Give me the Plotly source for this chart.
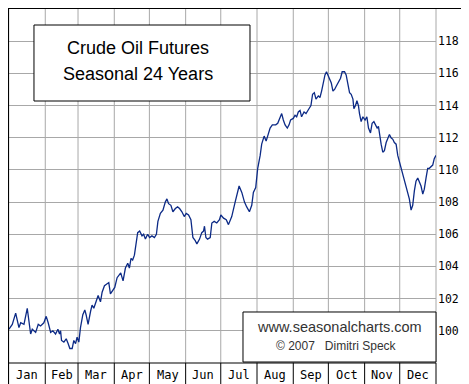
import plotly.graph_objects as go

# ---------------- data ----------------
months = ["Jan", "Feb", "Mar", "Apr", "May", "Jun", "Jul", "Aug", "Sep", "Oct", "Nov", "Dec"]
month_ends = [31, 59, 90, 120, 151, 181, 212, 243, 273, 304, 334, 365]
y_ticks = [100, 102, 104, 106, 108, 110, 112, 114, 116, 118]

day = [
    0, 2.8, 5.7, 7.1, 8.5, 10.0, 12.8, 15.6, 17.7, 18.5,
    19.9, 22.8, 25.0, 27.0, 29.8, 31.8, 33.5, 35.6, 37.5, 39.8,
    41.8, 43.2, 44.1, 44.9, 46.9, 48.9, 50.6, 52.0, 54.0, 55.4,
    56.9, 58.2, 59.7, 61.1, 63.1, 64.8, 65.9, 67.6, 69.7, 71.0,
    72.5, 74.4, 76.2, 78.2, 79.6, 81.6, 83.8, 85.3, 86.7, 88.7,
    90.4, 92.4, 95.5, 97.5, 99.5, 101.5, 102.9, 104.3, 105.7, 107.2,
    108.6, 110.0, 111.7, 113.7, 115.1, 116.6, 118.5, 120.2, 122.2, 124.3,
    126.0, 127.3, 129.4, 131.6, 133.6, 135.0, 136.4, 138.4, 140.1, 142.2,
    144.1, 145.8, 147.8, 149.8, 151.5, 153.5, 155.5, 157.2, 159.2, 160.6,
    162.9, 164.8, 166.3, 167.1, 168.3, 169.7, 172.0, 173.4, 175.4, 177.6,
    179.9, 181.1, 183.4, 185.7, 187.6, 190.4, 193.3, 196.7, 199.0, 201.3,
    203.2, 205.5, 207.5, 208.9, 210.9, 212.6, 214.7, 216.0, 218.1, 219.8,
    221.1, 223.2, 225.1, 228.0, 229.7, 231.7, 233.1, 234.5, 236.0, 237.9,
    239.4, 240.7, 243.0, 244.5, 245.9, 247.3, 248.8, 250.1, 252.2, 253.9,
    255.2, 256.4, 258.1, 259.5, 261.0, 262.4, 264.4, 265.8, 267.2, 268.6,
    270.1, 271.4, 273.5, 275.5, 276.9, 278.3, 279.7, 281.7, 283.4, 284.8,
    286.8, 288.2, 289.7, 291.1, 292.5, 294.0, 294.8, 296.2, 297.4, 298.7,
    299.6, 301.0, 302.5, 304.4, 305.9, 307.3, 309.0, 310.4, 311.9, 313.2,
    314.7, 315.8, 316.6, 318.1, 319.5, 320.9, 322.4, 323.8, 325.2, 326.6,
    328.1, 329.4, 330.9, 332.3, 333.7, 335.1, 337.1, 338.8, 340.9, 342.2,
    343.7, 345.1, 346.5, 347.9, 349.4, 350.8, 352.2, 353.7, 355.0, 356.5,
    357.9, 359.3, 360.7, 362.2, 363.5, 365,
]

seasonal = [
    100.1, 100.4, 101.1, 100.7, 100.2, 100.5, 100.4, 101.4, 100.3, 99.8,
    100.1, 99.9, 100.4, 100.3, 100.5, 100.9, 100.5, 99.9, 100.0, 99.8,
    100.1, 99.8, 100.0, 99.4, 99.3, 99.5, 99.2, 98.9, 98.9, 99.4,
    99.2, 99.6, 99.3, 100.2, 101.0, 101.3, 101.0, 100.4, 101.2, 101.6,
    101.4, 101.9, 102.2, 101.8, 102.4, 102.8, 102.9, 103.0, 102.3, 102.5,
    102.7, 103.3, 103.6, 103.1, 103.9, 104.2, 103.9, 104.5, 104.4, 104.7,
    105.4, 106.1, 106.2, 105.9, 106.0, 105.7, 106.0, 105.8, 105.9, 105.8,
    106.0, 106.8, 107.3, 107.5, 108.0, 108.2, 107.9, 107.8, 107.4, 107.6,
    107.7, 107.6, 107.4, 107.1, 107.3, 107.2, 106.9, 105.8, 105.6, 105.4,
    105.7, 106.1, 106.2, 106.5, 105.8, 105.7, 105.8, 106.7, 106.8, 106.7,
    106.9, 107.2, 107.0, 106.9, 106.6, 107.1, 108.0, 109.0, 108.6, 108.0,
    107.7, 107.4, 107.8, 108.6, 108.9, 110.1, 110.9, 111.6, 112.1, 111.8,
    112.1, 112.6, 112.8, 112.8, 112.9, 113.3, 113.5, 113.1, 112.8, 112.6,
    112.8, 113.1, 113.2, 113.4, 113.3, 113.6, 113.7, 113.3, 113.6, 113.5,
    113.7, 113.8, 114.0, 114.7, 114.8, 114.4, 114.6, 114.5, 114.9, 115.4,
    115.9, 116.1, 115.7, 115.4, 114.9, 115.0, 115.2, 115.5, 115.7, 116.1,
    116.1, 115.9, 115.3, 114.8, 114.7, 114.4, 113.8, 114.0, 114.3, 114.0,
    113.5, 113.0, 113.3, 113.1, 113.3, 112.6, 112.3, 112.9, 113.0, 112.8,
    112.6, 112.7, 112.2, 111.6, 111.1, 111.2, 111.7, 111.9, 112.2, 112.0,
    111.9, 111.7, 111.6, 110.9, 110.5, 110.1, 109.7, 109.2, 108.6, 108.2,
    107.5, 107.8, 108.7, 109.3, 109.5, 109.2, 109.0, 108.5, 108.8, 109.5,
    110.1, 110.1, 110.2, 110.3, 110.7, 110.9,
]

title_lines = ["Crude Oil Futures", "Seasonal 24 Years"]
credit_lines = ["www.seasonalcharts.com", "©\u00a02007\u00a0\u00a0\u00a0Dimitri Speck"]

# ---------------- figure ----------------
GRID = "#a8a8a8"
LINE = "#0c2a86"

fig = go.Figure()
fig.add_trace(go.Scatter(x=day, y=seasonal, mode="lines",
                         line=dict(color=LINE, width=1.3), hoverinfo="skip"))

shapes = []
# vertical month gridlines
for me in month_ends:
    if me == month_ends[-1]:
        shapes.append(dict(type="line", xref="paper", yref="paper", x0=1, x1=1,
                           y0=0, y1=1, line=dict(color=GRID, width=1), layer="below"))
    else:
        shapes.append(dict(type="line", xref="x", yref="paper", x0=me, x1=me,
                           y0=0, y1=1, line=dict(color=GRID, width=1), layer="below"))

ROW_B = -0.065  # bottom of month label row (paper)
# month separators in label row
for me in month_ends:
    if me == month_ends[-1]:
        shapes.append(dict(type="line", xref="paper", yref="paper", x0=1, x1=1,
                           y0=ROW_B, y1=0, line=dict(color="black", width=1)))
    else:
        shapes.append(dict(type="line", xref="x", yref="paper", x0=me, x1=me,
                           y0=ROW_B, y1=0, line=dict(color="black", width=1)))

# title box
shapes.append(dict(type="rect", xref="paper", yref="paper",
                   x0=0.0585, x1=0.5644, y0=0.7401, y1=0.9548,
                   line=dict(color="black", width=1), fillcolor="white", layer="above"))
# credit box
shapes.append(dict(type="rect", xref="paper", yref="paper",
                   x0=0.548, x1=1.0, y0=0.0028, y1=0.1441,
                   line=dict(color="black", width=1), fillcolor="white", layer="above"))

# borders
shapes += [
    dict(type="line", xref="paper", yref="paper", x0=-0.0012, x1=-0.0012, y0=1.003, y1=ROW_B,
         line=dict(color="black", width=1.2)),
    dict(type="line", xref="paper", yref="paper", x0=-0.003, x1=1.1, y0=1.0014, y1=1.0014,
         line=dict(color="black", width=1.2)),
    dict(type="line", xref="paper", yref="paper", x0=-0.003, x1=1.0, y0=0, y1=0,
         line=dict(color="black", width=1.2)),
    dict(type="line", xref="paper", yref="paper", x0=-0.003, x1=1.1, y0=ROW_B, y1=ROW_B,
         line=dict(color="black", width=1.2)),
]

annotations = []
for m, s, e in zip(months, [0] + month_ends[:-1], month_ends):
    annotations.append(dict(x=(s + e) / 2, y=-0.034, xref="x", yref="paper",
                            text=m, showarrow=False, xanchor="center", yanchor="middle",
                            font=dict(family="DejaVu Sans Mono", size=12, color="black")))

annotations.append(dict(x=0.3021, y=0.8898, xref="paper", yref="paper", text=title_lines[0],
                        showarrow=False, xanchor="center", yanchor="middle",
                        font=dict(family="Liberation Sans, Arial", size=18, color="black")))
annotations.append(dict(x=0.3021, y=0.816, xref="paper", yref="paper", text=title_lines[1],
                        showarrow=False, xanchor="center", yanchor="middle",
                        font=dict(family="Liberation Sans, Arial", size=18, color="black")))
annotations.append(dict(x=0.7745, y=0.1003, xref="paper", yref="paper", text=credit_lines[0],
                        showarrow=False, xanchor="center", yanchor="middle",
                        font=dict(family="Liberation Sans, Arial", size=14.5, color="#333")))
annotations.append(dict(x=0.768, y=0.048, xref="paper", yref="paper", text=credit_lines[1],
                        showarrow=False, xanchor="center", yanchor="middle",
                        font=dict(family="Liberation Sans, Arial", size=12, color="#333")))

fig.update_layout(
    width=469, height=384,
    margin=dict(l=1, r=41, t=1, b=29),
    paper_bgcolor="white", plot_bgcolor="white",
    showlegend=False,
    shapes=shapes,
    annotations=annotations,
    xaxis=dict(range=[0, 365], showgrid=False, zeroline=False, showticklabels=False,
               ticks="", showline=False, fixedrange=True),
    yaxis=dict(range=[98, 120], side="right", tickvals=y_ticks,
               ticktext=[str(v) for v in y_ticks],
               showgrid=True, gridcolor=GRID, gridwidth=1, zeroline=False,
               ticks="", showline=False, ticklabelstandoff=1, automargin=False,
               tickfont=dict(family="DejaVu Sans Mono", size=11.5, color="black"),
               fixedrange=True),
)

fig.write_html("out.html")
